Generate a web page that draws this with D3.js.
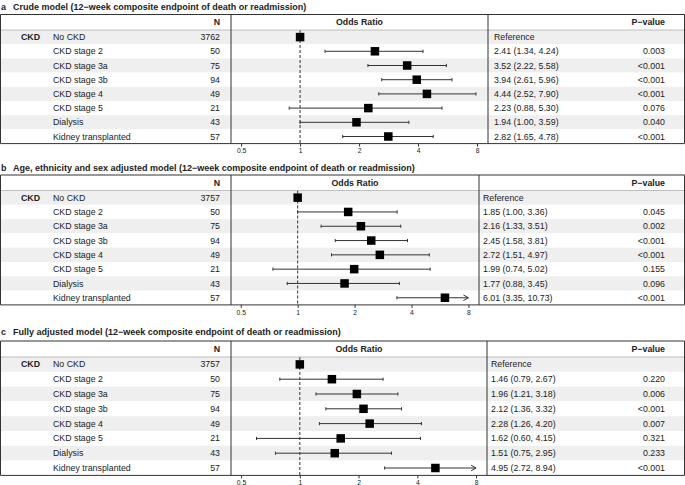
<!DOCTYPE html>
<html><head><meta charset="utf-8">
<script src="https://cdn.jsdelivr.net/npm/d3@7/dist/d3.min.js"></script>
<style>
body{margin:0;background:#fff;}
svg{display:block;font-family:"Liberation Sans",Arial,Helvetica,sans-serif;}
</style></head>
<body>
<script>
// ---------- data ----------
const categories = ["No CKD","CKD stage 2","CKD stage 3a","CKD stage 3b","CKD stage 4","CKD stage 5","Dialysis","Kidney transplanted"];
const groupLabel = "CKD";
const tickValues = [0.5,1,2,4,8];
const tickLabels = ["0.5","1","2","4","8"];

const titleA = "Crude model (12\u2212week composite endpoint of death or readmission)";
const nA   = [3762,50,75,94,49,21,43,57];
const orA  = [1,2.41,3.52,3.94,4.44,2.23,1.94,2.82];
const loA  = [null,1.34,2.22,2.61,2.52,0.88,1.00,1.65];
const hiA  = [null,4.24,5.58,5.96,7.90,5.30,3.59,4.78];
const pA   = ["","0.003","<0.001","<0.001","<0.001","0.076","0.040","<0.001"];

const titleB = "Age, ethnicity and sex adjusted model (12\u2212week composite endpoint of death or readmission)";
const nB   = [3757,50,75,94,49,21,43,57];
const orB  = [1,1.85,2.16,2.45,2.72,1.99,1.77,6.01];
const loB  = [null,1.00,1.33,1.58,1.51,0.74,0.88,3.35];
const hiB  = [null,3.36,3.51,3.81,4.97,5.02,3.45,10.73];
const pB   = ["","0.045","0.002","<0.001","<0.001","0.155","0.096","<0.001"];

const titleC = "Fully adjusted model (12\u2212week composite endpoint of death or readmission)";
const nC   = [3757,50,75,94,49,21,43,57];
const orC  = [1,1.46,1.96,2.12,2.28,1.62,1.51,4.95];
const loC  = [null,0.79,1.21,1.36,1.26,0.60,0.75,2.72];
const hiC  = [null,2.67,3.18,3.32,4.20,4.15,2.95,8.94];
const pC   = ["","0.220","0.006","<0.001","0.007","0.321","0.233","<0.001"];

// ---------- layout ----------
const panels = [
  {letter:"a", title:titleA, n:nA, or:orA, lo:loA, hi:hiA, p:pA,
   L:{titleY:7, top:14.5, headH:15.5, rowH:14.2, orR:488, txtX:494}},
  {letter:"b", title:titleB, n:nB, or:orB, lo:loB, hi:hiB, p:pB,
   L:{titleY:168, top:175, headH:15.5, rowH:14.3, orR:479, txtX:483}},
  {letter:"c", title:titleC, n:nC, or:orC, lo:loC, hi:hiC, p:pC,
   L:{titleY:332, top:341, headH:16, rowH:14.8, orR:487, txtX:491}}
];

const W = 685, H = 485;
const xDomain = [0.444, 9.1];
const clipMax = 8;
const txt = "#222", lineC = "#333";
const fs = 8.8, fsT = 9;

const svg = d3.select("body").append("svg").attr("width",W).attr("height",H);

panels.forEach(P=>{
  const L = P.L;
  const g = svg.append("g");
  const dataTop = L.top + L.headH;
  const bottom = dataTop + categories.length*L.rowH;
  const rowY = i => dataTop + (i+0.5)*L.rowH;
  const x = d3.scaleLog().domain(xDomain).range([231, L.orR]);

  // zebra
  g.selectAll("rect.z").data(categories).join("rect")
    .attr("x",0.5).attr("width",684)
    .attr("y",(d,i)=>dataTop+i*L.rowH).attr("height",L.rowH)
    .attr("fill",(d,i)=> i%2===0 ? "#efefef" : "#fff");

  // title
  g.append("text").attr("x",1).attr("y",L.titleY).attr("dy","0.35em")
    .attr("font-weight","bold").attr("font-size",fsT).attr("fill",txt).text(P.letter);
  g.append("text").attr("x",13).attr("y",L.titleY).attr("dy","0.35em")
    .attr("font-weight","bold").attr("font-size",fsT).attr("fill",txt).text(P.title);

  // header
  const hy = L.top + L.headH/2;
  g.append("text").attr("x",220).attr("y",hy).attr("dy","0.35em").attr("text-anchor","end")
    .attr("font-weight","bold").attr("font-size",fs).attr("fill",txt).text("N");
  g.append("text").attr("x",(231+L.orR)/2).attr("y",hy).attr("dy","0.35em").attr("text-anchor","middle")
    .attr("font-weight","bold").attr("font-size",fs).attr("fill",txt).text("Odds Ratio");
  g.append("text").attr("x",665).attr("y",hy).attr("dy","0.35em").attr("text-anchor","end")
    .attr("font-weight","bold").attr("font-size",fs).attr("fill",txt).text("P\u2212value");

  // row texts
  g.append("text").attr("x",21).attr("y",rowY(0)).attr("dy","0.35em")
    .attr("font-weight","bold").attr("font-size",fs).attr("fill",txt).text(groupLabel);
  g.selectAll("text.cat").data(categories).join("text")
    .attr("x",53).attr("y",(d,i)=>rowY(i)).attr("dy","0.35em")
    .attr("font-size",fs).attr("fill",txt).text(d=>d);
  g.selectAll("text.n").data(P.n).join("text")
    .attr("x",220).attr("y",(d,i)=>rowY(i)).attr("dy","0.35em").attr("text-anchor","end")
    .attr("font-size",fs).attr("fill",txt).text(d=>d);
  g.selectAll("text.est").data(P.or).join("text")
    .attr("x",L.txtX).attr("y",(d,i)=>rowY(i)).attr("dy","0.35em")
    .attr("font-size",fs).attr("fill",txt)
    .text((d,i)=> P.lo[i]==null ? "Reference" :
      `${d.toFixed(2)} (${P.lo[i].toFixed(2)}, ${P.hi[i].toFixed(2)})`);
  g.selectAll("text.p").data(P.p).join("text")
    .attr("x",665).attr("y",(d,i)=>rowY(i)).attr("dy","0.35em").attr("text-anchor","end")
    .attr("font-size",fs).attr("fill",txt).text(d=>d);

  // reference line
  g.append("line").attr("x1",x(1)).attr("x2",x(1)).attr("y1",dataTop).attr("y2",bottom)
    .attr("stroke","#333").attr("stroke-width",1).attr("stroke-dasharray","3,2");

  // CIs
  P.or.forEach((v,i)=>{
    if(P.lo[i]==null) return;
    const y = rowY(i);
    const x1 = x(P.lo[i]);
    const clipped = P.hi[i] > clipMax;
    const x2 = x(Math.min(P.hi[i], clipMax));
    g.append("line").attr("x1",x1).attr("x2",x2).attr("y1",y).attr("y2",y)
      .attr("stroke",lineC).attr("stroke-width",1);
    g.append("line").attr("x1",x1).attr("x2",x1).attr("y1",y-1.6).attr("y2",y+1.6)
      .attr("stroke",lineC).attr("stroke-width",1);
    if(clipped){
      g.append("path").attr("d",`M${x2-5},${y-2.8}L${x2},${y}L${x2-5},${y+2.8}`)
        .attr("fill","none").attr("stroke",lineC).attr("stroke-width",1);
    } else {
      g.append("line").attr("x1",x2).attr("x2",x2).attr("y1",y-1.6).attr("y2",y+1.6)
        .attr("stroke",lineC).attr("stroke-width",1);
    }
  });

  // squares
  const s = 8.5;
  g.selectAll("rect.sq").data(P.or).join("rect")
    .attr("x",d=>x(d)-s/2).attr("y",(d,i)=>rowY(i)-s/2)
    .attr("width",s).attr("height",s).attr("fill","#000");

  // borders
  const bc = "#333";
  [L.top, bottom].forEach(yy=>{
    g.append("line").attr("x1",0.5).attr("x2",684.5).attr("y1",yy).attr("y2",yy)
      .attr("stroke",bc).attr("stroke-width",1);
  });
  g.append("line").attr("x1",0.5).attr("x2",684.5).attr("y1",dataTop).attr("y2",dataTop)
    .attr("stroke","#999").attr("stroke-width",0.6);
  [0.5, 231, L.orR, 684.5].forEach(xx=>{
    g.append("line").attr("x1",xx).attr("x2",xx).attr("y1",L.top).attr("y2",bottom)
      .attr("stroke",bc).attr("stroke-width",1);
  });

  // axis
  const ax = g.append("g").attr("transform",`translate(0,${bottom})`)
    .call(d3.axisBottom(x).tickValues(tickValues).tickSize(3)
      .tickFormat((d,i)=>tickLabels[i]));
  ax.select(".domain").remove();
  ax.selectAll(".tick line").attr("stroke","#333");
  ax.selectAll(".tick text").attr("font-size",6.8).attr("fill",txt)
    .attr("font-family","'Liberation Sans',Arial,sans-serif").attr("y",5);
});
</script>
</body></html>
